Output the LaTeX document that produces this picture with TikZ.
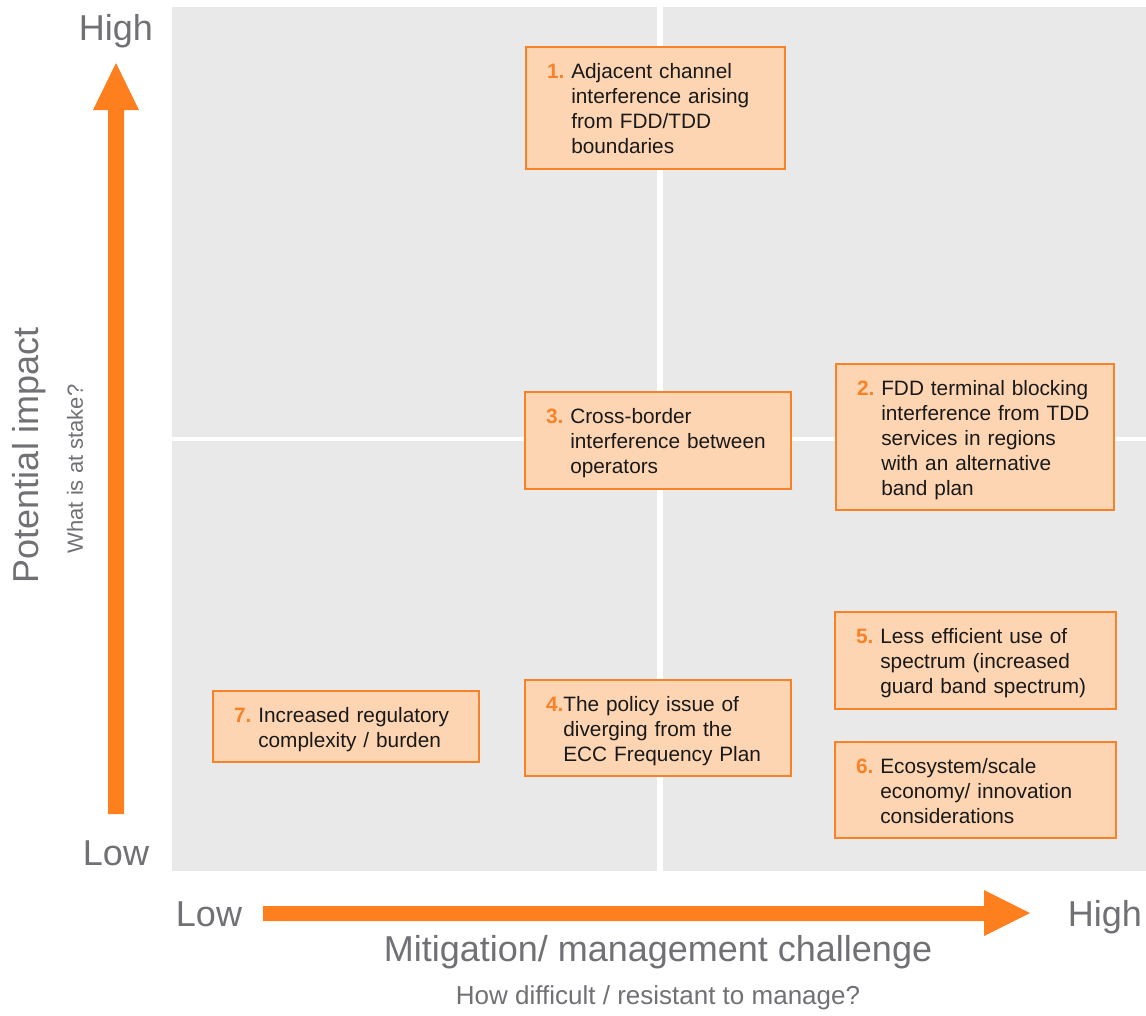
\documentclass[tikz,border=0pt]{standalone}
\usepackage{fontspec}
\setmainfont{Liberation Sans}
\usepackage{tikz}

\definecolor{gridgrey}{RGB}{233,233,233}
\definecolor{axisorange}{RGB}{253,127,30}
\definecolor{riskline}{RGB}{247,130,40}
\definecolor{riskfill}{RGB}{253,213,178}
\definecolor{labelgrey}{RGB}{112,112,117}

\newcommand{\risknum}[1]{\textcolor{riskline}{\bfseries #1}}
% number plus a stack of lines, dropped a little inside its box
\newcommand{\riskitem}[2]{\raisebox{-2.25pt}[\height][\depth]{\risknum{#1}\begin{tabular}[t]{@{}l@{}}#2\end{tabular}}}

\tikzset{
  riskbox/.style={draw=riskline,fill=riskfill,line width=1.5pt,inner xsep=15.75pt,inner ysep=0pt,
    align=left,text=black!90,font=\fontsize{15.6}{18.75}\selectfont},
  biglabel/.style={text=labelgrey,inner sep=0pt,font=\fontsize{27}{30}\selectfont},
  smalllabel/.style={text=labelgrey,inner sep=0pt,font=\fontsize{16.5}{19}\selectfont}
}

\begin{document}
\begin{tikzpicture}[x=0.75pt,y=-0.75pt]
\useasboundingbox (0,0) rectangle (1146,1015);
% quadrant grid:
\path[fill=gridgrey] (172,7) rectangle (1146,871);
\path[fill=white] (657,7) rectangle (663,871);
\path[fill=white] (172,437) rectangle (1146,441);
% axis arrows:
\path[fill=axisorange] (108,814) -- (108,110) -- (93,110) -- (116,63) -- (139,110) -- (124,110) -- (124,814) -- cycle;
\path[fill=axisorange] (263,906) -- (984,906) -- (984,890) -- (1030,913) -- (984,936) -- (984,921) -- (263,921) -- cycle;
% axis labels:
\node[biglabel] (yhigh) at (116,31) {High};
\node[biglabel] (ylow) at (116,853) {Low};
\node[biglabel] (xlow) at (209,914) {Low};
\node[biglabel] (xhigh) at (1105,917) {High};
\node[biglabel,rotate=90] (ytitle) at (29,455) {Potential impact};
\node[smalllabel,rotate=90] (ysub) at (75,469) {What is at stake?};
\node[biglabel] (xtitle) at (658,952) {Mitigation/ management challenge};
\node[smalllabel,font=\fontsize{19.5}{22}\selectfont] (xsub) at (658,998) {How difficult / resistant to manage?};
% risks:
\node[riskbox,text width=162.75pt,minimum height=91.5pt] (r1) at (655.5,108)
  {\riskitem{1.~}{Adjacent channel\\interference arising\\from FDD/TDD\\boundaries}};
\node[riskbox,text width=177pt,minimum height=109.5pt] (r2) at (975,437)
  {\riskitem{2.~}{FDD terminal blocking\\interference from TDD\\services in regions\\with an alternative\\band plan}};
\node[riskbox,text width=168pt,minimum height=72.75pt] (r3) at (658,440.5)
  {\riskitem{3.~}{Cross-border\\interference between\\operators}};
\node[riskbox,text width=168pt,minimum height=72pt] (r4) at (658,728)
  {\riskitem{4.}{The policy issue of\\diverging from the\\ECC Frequency Plan}};
\node[riskbox,text width=179.25pt,minimum height=72.75pt] (r5) at (975.5,660.5)
  {\riskitem{5.~}{Less efficient use of\\spectrum (increased\\guard band spectrum)}};
\node[riskbox,text width=179.25pt,minimum height=72pt] (r6) at (975.5,790)
  {\riskitem{6.~}{Ecosystem/scale\\economy/ innovation\\considerations}};
\node[riskbox,text width=168pt,minimum height=53.25pt] (r7) at (346,726.5)
  {\riskitem{7.~}{Increased regulatory\\complexity / burden}};
\end{tikzpicture}
\end{document}
